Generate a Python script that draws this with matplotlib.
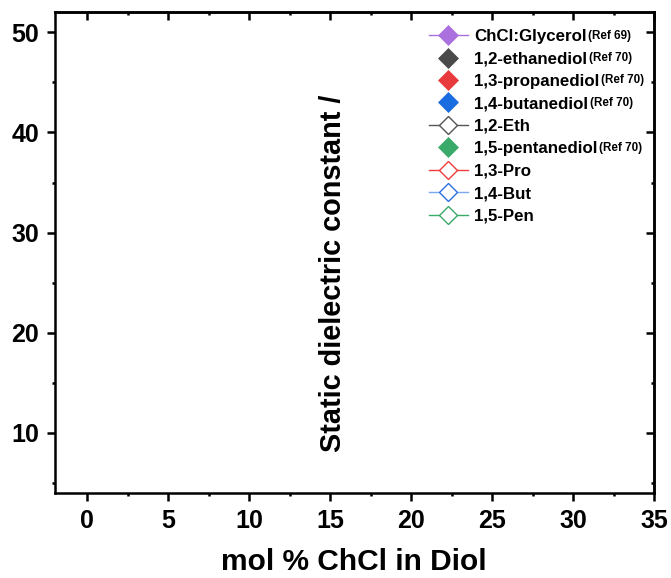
import matplotlib
matplotlib.use("Agg")
import matplotlib.pyplot as plt
from matplotlib.ticker import MultipleLocator

plt.rcParams['font.family'] = ['Liberation Sans', 'DejaVu Sans']
plt.rcParams['font.weight'] = 'bold'

# Legend entries (no data points are visible in the reference)
labels = ["ChCl:Glycerol", "1,2-ethanediol", "1,3-propanediol", "1,4-butanediol",
          "1,2-Eth", "1,5-pentanediol", "1,3-Pro", "1,4-But", "1,5-Pen"]
refs = ["(Ref 69)", "(Ref 70)", "(Ref 70)", "(Ref 70)", "",
        "(Ref 70)", "", "", ""]
colors = ["#A970DE", "#4A4A4A", "#E8393C", "#1A6DE0", "#555555",
          "#3AAA6A", "#F03C3C", "#2D6FE0", "#3AAA6A"]
line_colors = ["#A970DE", None, None, None, "#555555", None,
               "#F03C3C", "#7AA8F0", "#3AAA6A"]
filled = [True, True, True, True, False, True, False, False, False]

x_ticks = [0, 5, 10, 15, 20, 25, 30, 35]
y_ticks = [10, 20, 30, 40, 50]

fig = plt.figure(figsize=(6.71, 5.78), dpi=100)
ax = fig.add_axes([55/671, 1-493/578, (654.3-55)/671, (493-12.3)/578])

for lab, c, lc, f in zip(labels, colors, line_colors, filled):
    ax.plot([], [], marker='D', linestyle='-' if lc else 'none',
            color=lc if lc else c, lw=1.0,
            markerfacecolor=c if f else 'white', markeredgecolor=c,
            markeredgewidth=1.0 if not f else 0.5,
            markersize=10 if f else 9.5, label=lab)

ax.set_xlim(-2, 35)
ax.set_ylim(4, 52)
ax.set_xticks(x_ticks)
ax.set_yticks(y_ticks)
ax.xaxis.set_minor_locator(MultipleLocator(2.5))
ax.yaxis.set_minor_locator(MultipleLocator(5))

LW = 1.8
for s in ax.spines.values():
    s.set_linewidth(LW)

ax.tick_params(which='major', direction='out', length=5.5, width=LW,
               labelsize=18, pad=6)
ax.tick_params(which='minor', direction='out', length=2.5, width=LW)
ax.tick_params(which='both', top=False, right=False)
for lab in ax.get_xticklabels() + ax.get_yticklabels():
    lab.set_fontweight('bold')

# mirrored inward ticks on top and right
ax2 = ax.secondary_xaxis('top')
ax2.set_xticks(x_ticks)
ax2.xaxis.set_minor_locator(MultipleLocator(2.5))
ax2.tick_params(which='major', direction='in', length=5.5, width=LW, labeltop=False)
ax2.tick_params(which='minor', direction='in', length=2.5, width=LW)
ax2.spines['top'].set_linewidth(LW)
ax3 = ax.secondary_yaxis('right')
ax3.set_yticks(y_ticks)
ax3.yaxis.set_minor_locator(MultipleLocator(5))
ax3.tick_params(which='major', direction='in', length=5.5, width=LW, labelright=False)
ax3.tick_params(which='minor', direction='in', length=2.5, width=LW)
ax3.spines['right'].set_linewidth(LW)

fig.text(354/671, 1-562/578, "mol % ChCl in Diol", fontsize=21.5,
         fontweight='bold', ha='center', va='center')
fig.text(333/671, 1-273.5/578, "Static dielectric constant /", fontsize=20.8,
         fontweight='bold', rotation=90, ha='center', va='center')

leg = ax.legend(loc='upper left', bbox_to_anchor=(429/671, 1-29/578),
                bbox_transform=fig.transFigure, frameon=False,
                prop={'size': 12.2, 'weight': 'bold'}, handlelength=2.3,
                handletextpad=0.36, labelspacing=0.44, borderaxespad=0,
                borderpad=0)

fig.canvas.draw()
r = fig.canvas.get_renderer()
for t, ref in zip(leg.get_texts(), refs):
    if not ref:
        continue
    bb = t.get_window_extent(r)
    fig.text((bb.x1 + 1.5) / fig.bbox.width, (bb.y1 - 0.5) / fig.bbox.height, ref,
             fontsize=8.4, fontweight='bold', ha='left', va='top')

fig.savefig("out.png", dpi=100)
